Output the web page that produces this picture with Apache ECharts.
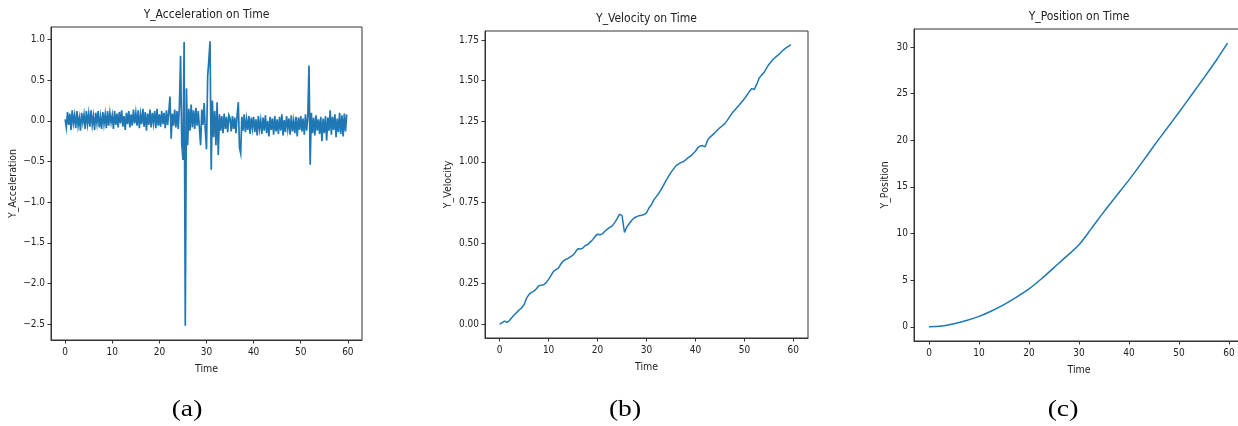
<!DOCTYPE html>
<html>
<head>
<meta charset="utf-8">
<script src="https://cdn.jsdelivr.net/npm/echarts@6/dist/echarts.min.js"></script>
<style>
html,body{margin:0;padding:0;background:#fff;}
#chart{width:1238px;height:426px;}
</style>
</head>
<body>
<div id="chart"></div>
<script>
// ---- data ----
const accTimeStep = 0.25; // seconds between acceleration samples
const accValues = [
  0.02,-0.08,0.11,-0.05,0.09,-0.11,0.13,-0.03,0.07,-0.09,0.12,-0.06,0.04,-0.12,0.10,-0.02,0.08,-0.10,0.12,-0.04,
  0.09,-0.07,0.13,-0.05,0.06,-0.11,0.10,-0.03,0.12,-0.08,0.05,-0.10,0.11,-0.04,0.08,-0.09,0.12,-0.06,0.10,-0.02,
  0.07,-0.10,0.12,-0.05,0.09,-0.08,0.11,-0.03,0.13,-0.07,0.06,-0.11,0.10,-0.04,0.12,-0.08,0.08,-0.06,0.14,-0.03,
  0.10,-0.06,0.13,-0.09,0.08,-0.04,0.15,-0.07,0.11,-0.12,0.09,-0.05,0.14,-0.08,0.10,-0.03,0.12,-0.09,0.15,-0.06,
  0.08,-0.07,0.12,-0.04,0.10,-0.09,0.13,-0.05,0.11,0.30,-0.22,0.09,-0.06,0.14,-0.08,0.12,-0.10,0.18,0.80,-0.28,
  -0.48,0.97,-2.52,0.40,-0.30,0.15,-0.12,0.20,-0.08,0.13,-0.10,0.16,-0.06,0.12,-0.09,-0.30,0.14,-0.05,0.22,-0.12,
  -0.35,0.55,0.75,0.98,-0.60,0.25,-0.20,0.12,-0.30,0.23,-0.42,0.08,-0.12,0.06,-0.15,0.09,-0.10,0.05,-0.14,0.07,
  0.03,-0.13,0.06,-0.10,0.04,-0.15,0.07,0.23,-0.33,-0.40,0.05,-0.12,0.08,-0.14,0.02,-0.11,0.06,-0.16,0.04,-0.09,
  0.05,-0.14,0.02,-0.18,0.06,-0.10,0.01,-0.16,0.04,-0.12,0.07,-0.15,0.00,-0.19,0.05,-0.11,0.03,-0.17,0.06,-0.13,
  0.02,-0.16,0.05,-0.12,0.08,-0.18,0.01,-0.14,0.06,-0.10,0.03,-0.17,0.07,-0.13,0.00,-0.15,0.05,-0.19,0.04,-0.11,
  0.06,-0.13,0.03,-0.17,0.08,-0.12,0.05,0.68,-0.54,0.10,-0.15,0.04,-0.18,0.07,-0.12,0.02,-0.16,0.05,-0.25,0.03,
  -0.15,0.06,-0.24,0.04,-0.12,0.13,-0.17,0.05,-0.11,0.08,-0.20,0.03,-0.14,0.10,-0.16,0.07,-0.19,0.09,-0.13,0.08
];
const velTimeStep = 0.5;
const velValues = [
  0.000,0.008,0.018,0.010,0.022,0.040,0.057,0.072,0.088,0.100,
  0.120,0.160,0.183,0.195,0.203,0.218,0.236,0.240,0.242,0.255,
  0.275,0.300,0.325,0.336,0.345,0.370,0.388,0.398,0.405,0.415,
  0.425,0.445,0.464,0.462,0.468,0.484,0.490,0.505,0.520,0.540,
  0.554,0.550,0.556,0.572,0.585,0.595,0.605,0.625,0.650,0.678,
  0.668,0.565,0.600,0.620,0.640,0.655,0.662,0.668,0.670,0.675,
  0.685,0.715,0.735,0.765,0.785,0.805,0.830,0.856,0.885,0.910,
  0.935,0.955,0.975,0.985,0.995,1.000,1.012,1.025,1.035,1.050,
  1.065,1.088,1.098,1.100,1.092,1.135,1.152,1.166,1.180,1.196,
  1.210,1.222,1.235,1.255,1.278,1.300,1.318,1.335,1.352,1.370,
  1.388,1.410,1.432,1.452,1.445,1.475,1.515,1.534,1.550,1.575,
  1.600,1.618,1.635,1.648,1.660,1.675,1.690,1.702,1.712,1.722
];
const posTimes = [0,2.5,5,7.5,10,12.5,15,17.5,20,22.5,25,27.5,30,32.5,35,37.5,40,42.5,45,47.5,50,52.5,55,57.5,59.7];
const posValues = [0,0.08,0.33,0.68,1.12,1.70,2.38,3.18,4.06,5.15,6.35,7.55,8.80,10.55,12.35,14.05,15.75,17.55,19.40,21.20,23.00,24.85,26.70,28.60,30.40];

const xTicks = [0,10,20,30,40,50,60];
const accTicks = [-2.5,-2.0,-1.5,-1.0,-0.5,0.0,0.5,1.0];
const velTicks = [0,0.25,0.5,0.75,1.0,1.25,1.5,1.75];
const posTicks = [0,5,10,15,20,25,30];

const titles = ['Y_Acceleration on Time','Y_Velocity on Time','Y_Position on Time'];
const yNames = ['Y_Acceleration','Y_Velocity','Y_Position'];
const captions = ['(a)','(b)','(c)'];

// ---- build ----
const accData = accValues.map((v,i)=>[i*accTimeStep, v]);
const velData = velValues.map((v,i)=>[i*velTimeStep, v]);
const posData = posValues.map((v,i)=>[posTimes[i], v]);

const FONT = '"DejaVu Sans Condensed","DejaVu Sans",sans-serif';
const TXT = '#222';
const SPINE = '#333';
const BLUE = '#1f77b4';

const grids = [
  {left:51, top:27, width:311, height:313},
  {left:485, top:31, width:323, height:307},
  {left:914, top:29, width:330, height:312}
];
const yRanges = [[-2.695,1.155],[-0.086,1.806],[-1.52,31.92]];
const yTickSets = [accTicks, velTicks, posTicks];
const yFmt = [
  v => (v<0?'\u2212':'') + Math.abs(v).toFixed(1),
  v => (v<0?'\u2212':'') + Math.abs(v).toFixed(2),
  v => (v<0?'\u2212':'') + Math.abs(v).toFixed(0)
];
const yNameGaps = [29, 31, 23];

function xAxis(i){
  return {
    type:'value', gridIndex:i, min:-3, max:63,
    name:'Time', nameLocation:'middle', nameGap:24,
    nameTextStyle:{fontFamily:FONT, fontSize:10.5, color:TXT},
    splitLine:{show:false},
    axisLine:{show:true, onZero:false, lineStyle:{color:SPINE, width:1}},
    axisTick:{show:true, inside:false, length:3.5, lineStyle:{color:SPINE, width:1}, customValues:xTicks},
    axisLabel:{fontFamily:FONT, fontSize:10, color:TXT, margin:7, customValues:xTicks, formatter:v=>String(v)}
  };
}
function yAxis(i){
  return {
    type:'value', gridIndex:i, min:yRanges[i][0], max:yRanges[i][1],
    name:yNames[i], nameLocation:'middle', nameGap:yNameGaps[i], nameRotate:90,
    nameTextStyle:{fontFamily:FONT, fontSize:10.5, color:TXT},
    splitLine:{show:false},
    axisLine:{show:true, onZero:false, lineStyle:{color:SPINE, width:1}},
    axisTick:{show:true, inside:false, length:3.5, lineStyle:{color:SPINE, width:1}, customValues:yTickSets[i]},
    axisLabel:{fontFamily:FONT, fontSize:10, color:TXT, margin:6, customValues:yTickSets[i], formatter:yFmt[i]}
  };
}

const graphic = [];
titles.forEach((t,i)=>{
  graphic.push({type:'text', x: grids[i].left + grids[i].width/2, y: [9,13,11][i],
    style:{text:t, fontFamily:FONT, fontSize:12, fill:TXT, align:'center', verticalAlign:'top'}});
});
[187,625,1063].forEach((cx,i)=>{
  graphic.push({type:'text', x: cx, y: 410, scaleX:1.2,
    style:{text:captions[i], fontFamily:'"Liberation Serif","Times New Roman",serif', fontSize:23, fill:'#000', align:'center', verticalAlign:'middle'}});
});

const chart = echarts.init(document.getElementById('chart'), null, {renderer:'canvas'});
chart.setOption({
  animation:false,
  backgroundColor:'#fff',
  grid: grids.map(g=>Object.assign({show:true, borderColor:SPINE, borderWidth:1, backgroundColor:'transparent', containLabel:false, outerBoundsMode:'none'}, g)),
  xAxis:[0,1,2].map(xAxis),
  yAxis:[0,1,2].map(yAxis),
  series:[
    {type:'line', xAxisIndex:0, yAxisIndex:0, data:accData, showSymbol:false, symbol:'none', lineStyle:{color:BLUE, width:1.7, join:'miter'}, clip:true},
    {type:'line', xAxisIndex:1, yAxisIndex:1, data:velData, showSymbol:false, symbol:'none', lineStyle:{color:BLUE, width:1.5}, clip:true},
    {type:'line', xAxisIndex:2, yAxisIndex:2, data:posData, showSymbol:false, symbol:'none', smooth:0.3, lineStyle:{color:BLUE, width:1.5}, clip:true}
  ],
  graphic: graphic
});
</script>
</body>
</html>
